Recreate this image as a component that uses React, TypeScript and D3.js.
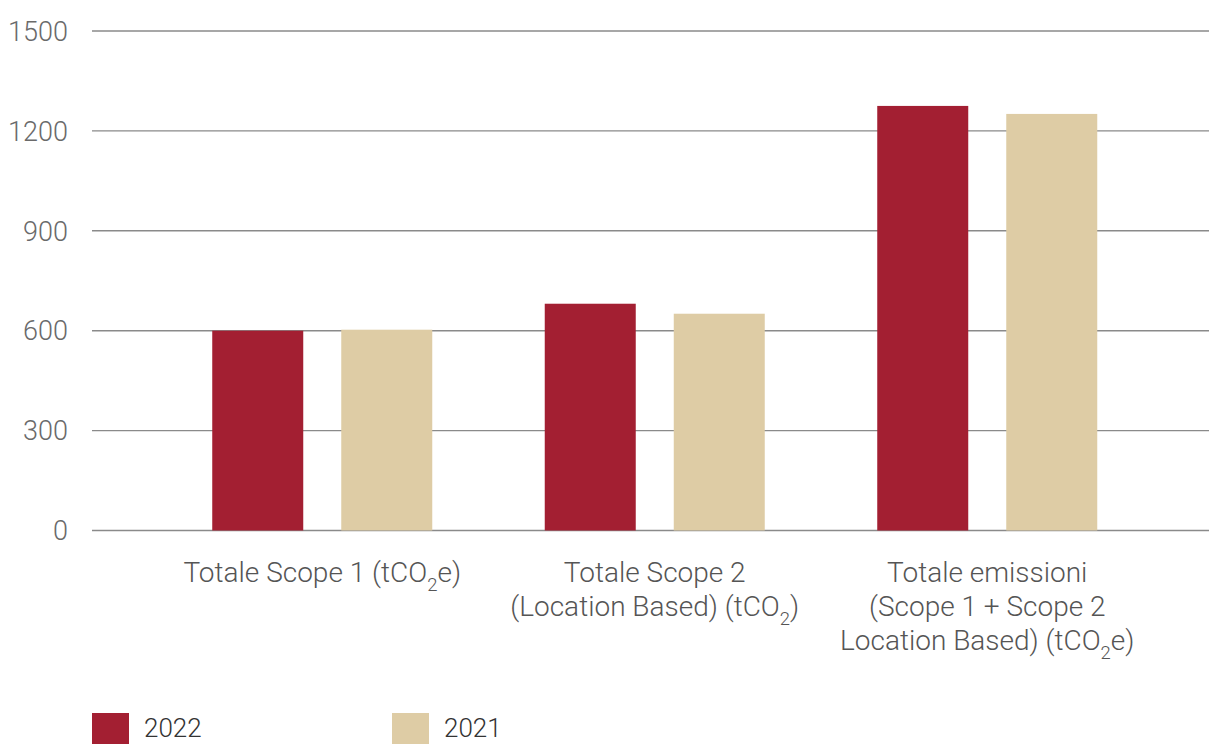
import React from "react";
import * as d3 from "d3";

const categories = ["scope1", "scope2", "total"];
const categoryLabels: string[][] = [
  ["Totale Scope 1 (tCO_2e)"],
  ["Totale Scope 2", "(Location Based) (tCO_2)"],
  ["Totale emissioni", "(Scope 1 + Scope 2", "Location Based) (tCO_2e)"],
];
const seriesNames = ["2022", "2021"];
const values2022 = [600, 681, 1275];
const values2021 = [603, 651, 1251];
const yTicks = [0, 300, 600, 900, 1200, 1500];
const colors = ["#A31F32", "#DECCA5"];

const W = 1209;
const H = 744;
const FONT = "Roboto, 'Noto Sans', sans-serif";
const TEXT = "#555555";

function renderLabel(line: string, fs: number) {
  const parts = line.split("_");
  if (parts.length === 1) return line;
  const out: React.ReactNode[] = [parts[0]];
  for (let i = 1; i < parts.length; i++) {
    const p = parts[i];
    out.push(
      <tspan key={"s" + i} fontSize={fs * 0.66} dy={fs * 0.33}>
        {p[0]}
      </tspan>
    );
    out.push(
      <tspan key={"r" + i} dy={-fs * 0.33}>
        {p.slice(1)}
      </tspan>
    );
  }
  return out;
}

export default function App() {
  const y = d3.scaleLinear().domain([0, 1500]).range([530.5, 31]);
  const x0 = d3.scaleBand<string>().domain(categories).range([156, 1153.5]).padding(0);
  const x1 = d3
    .scaleBand<string>()
    .domain(seriesNames)
    .range([0, x0.bandwidth()])
    .paddingInner(0.2946)
    .paddingOuter(0.436);
  const seriesValues = [values2022, values2021];
  const labelFs = 28;
  const tickFs = 27;

  return (
    <svg
      width={W}
      height={H}
      style={{ position: "absolute", left: 0, top: 0, background: "#fff" }}
    >
      <g>
        {yTicks.map((t) => (
          <g key={t}>
            <line
              x1={92}
              x2={W}
              y1={y(t)}
              y2={y(t)}
              stroke="#8a8a8a"
              strokeWidth={1.4}
            />
            <text
              x={68}
              y={y(t)}
              dy="0.36em"
              textAnchor="end"
              fontFamily={FONT}
              fontWeight={300}
              fontSize={tickFs}
              fill="#6a6a6a"
            >
              {t}
            </text>
          </g>
        ))}
      </g>
      <g>
        {categories.map((c, ci) => (
          <g key={c} transform={`translate(${x0(c)},0)`}>
            {seriesNames.map((s, si) => {
              const v = seriesValues[si][ci];
              return (
                <rect
                  key={s}
                  x={x1(s)}
                  y={y(v)}
                  width={x1.bandwidth()}
                  height={y(0) - y(v)}
                  fill={colors[si]}
                />
              );
            })}
          </g>
        ))}
      </g>
      <g>
        {categories.map((c, ci) => {
          const cx = (x0(c) as number) + x0.bandwidth() / 2;
          return (
            <text
              key={c}
              textAnchor="middle"
              fontFamily={FONT}
              fontWeight={300}
              fontSize={labelFs}
              fill={TEXT}
            >
              {categoryLabels[ci].map((line, li) => (
                <tspan key={li} x={cx} y={582 + li * 34}>
                  {renderLabel(line, labelFs)}
                </tspan>
              ))}
            </text>
          );
        })}
      </g>
      <g>
        {seriesNames.map((s, si) => {
          const lx = 92 + si * 300;
          return (
            <g key={s}>
              <rect x={lx} y={713} width={37} height={34} fill={colors[si]} />
              <text
                x={lx + 52}
                y={737}
                fontFamily={FONT}
                fontWeight={300}
                fontSize={26}
                fill="#333"
              >
                {s}
              </text>
            </g>
          );
        })}
      </g>
    </svg>
  );
}
